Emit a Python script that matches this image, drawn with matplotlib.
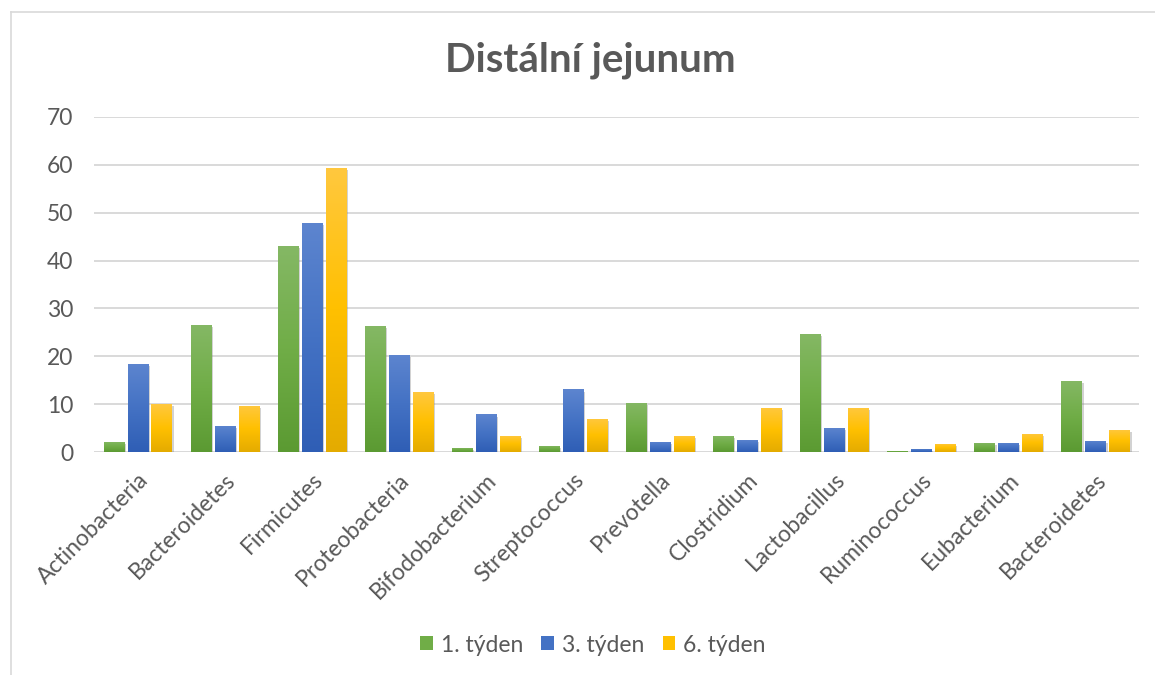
import numpy as np
import matplotlib
matplotlib.use("Agg")
import matplotlib.pyplot as plt
from matplotlib import patheffects as pe
from matplotlib.colors import to_rgb
from matplotlib.lines import Line2D
from matplotlib.patches import Patch

plt.rcParams['font.family'] = ['Lato', 'DejaVu Sans']

categories = ["Actinobacteria", "Bacteroidetes", "Firmicutes", "Proteobacteria",
              "Bifodobacterium", "Streptococcus", "Prevotella", "Clostridium",
              "Lactobacillus", "Ruminococcus", "Eubacterium", "Bacteroidetes"]
week1 = [2.1, 26.5, 43.0, 26.3, 0.9, 1.4, 10.3, 3.5, 24.7, 0.3, 1.9, 14.9]
week3 = [18.5, 5.5, 47.8, 20.3, 7.9, 13.1, 2.1, 2.6, 5.1, 0.7, 1.9, 2.4]
week6 = [10.0, 9.6, 59.3, 12.5, 3.4, 7.0, 3.5, 9.3, 9.2, 1.7, 3.8, 4.7]
series_names = ["1. týden", "3. týden", "6. týden"]
yticks = [0, 10, 20, 30, 40, 50, 60, 70]

# (top, middle, bottom) colours of each series' vertical gradient
gradients = [
    ("#85b865", "#70ad47", "#5b9a32"),
    ("#5d85cf", "#4472c4", "#2f5eb5"),
    ("#ffc83f", "#ffc000", "#e4ab00"),
]
text_col = "#595959"
grid_col = "#d9d9d9"
fs = 16.5

fig = plt.figure(figsize=(11.55, 6.75), dpi=100)
fig.patch.set_facecolor("white")

# chart frame (top and left edges)
fig.add_artist(Line2D([11 / 1155, 1.0], [1 - 12 / 675, 1 - 12 / 675],
                      color=grid_col, lw=1.2, transform=fig.transFigure))
fig.add_artist(Line2D([11 / 1155, 11 / 1155], [0.0, 1 - 12 / 675],
                      color=grid_col, lw=1.2, transform=fig.transFigure))

ax = fig.add_axes([94 / 1155, 222.7 / 675, 1045 / 1155, 335.6 / 675])
ax.set_xlim(-0.5, len(categories) - 0.5)
ax.set_ylim(0, 70)
ax.set_yticks(yticks)
ax.yaxis.grid(True, color=grid_col, lw=1.4)
ax.set_axisbelow(True)
for s in ax.spines.values():
    s.set_visible(False)
ax.tick_params(axis="both", length=0, labelsize=fs, colors=text_col)
ax.tick_params(axis="y", pad=15)
ax.axhline(0, color=grid_col, lw=2.0, zorder=1)

x = np.arange(len(categories))
width = 0.23
step = 0.275
grad = np.linspace(0, 1, 256)

for i, (vals, cols) in enumerate(zip([week1, week3, week6], gradients)):
    top, mid, bot = (np.array(to_rgb(c)) for c in cols)
    # gradient image: row 0 at the bottom of the bar
    img = np.zeros((256, 1, 3))
    for k, t in enumerate(grad):
        if t < 0.5:
            img[k, 0] = bot + (mid - bot) * (t / 0.5)
        else:
            img[k, 0] = mid + (top - mid) * ((t - 0.5) / 0.5)
    bars = ax.bar(x + (i - 1) * step, vals, width, color=cols[1], zorder=2,
                  path_effects=[pe.SimplePatchShadow(offset=(1.5, -1.5),
                                                     shadow_rgbFace="#7f7f7f",
                                                     alpha=0.35),
                                pe.Normal()])
    for b in bars:
        x0, h = b.get_x(), b.get_height()
        im = ax.imshow(img, extent=(x0, x0 + b.get_width(), 0, h),
                       origin="lower", aspect="auto", zorder=3,
                       interpolation="bilinear")
        im.set_clip_path(b)

ax.set_xlim(-0.5, len(categories) - 0.5)
ax.set_ylim(0, 70)
ax.set_xticks(x)
ax.set_xticklabels(categories, rotation=45, ha="right", va="top",
                   rotation_mode="anchor", fontsize=fs, color=text_col)
ax.tick_params(axis="x", pad=12)

fig.text(590 / 1155, 1 - 60 / 675, "Distální jejunum", ha="center", va="center",
         fontsize=29, fontweight="bold", color=text_col)

handles = [Patch(facecolor=c[1], edgecolor="none") for c in gradients]
fig.legend(handles, series_names, loc="center", bbox_to_anchor=(593 / 1155, 1 - 645 / 675),
           ncol=3, frameon=False, fontsize=fs, labelcolor=text_col,
           handlelength=0.55, handleheight=0.55, handletextpad=0.35, columnspacing=0.8)

fig.savefig("out.png", dpi=100, facecolor="white")
